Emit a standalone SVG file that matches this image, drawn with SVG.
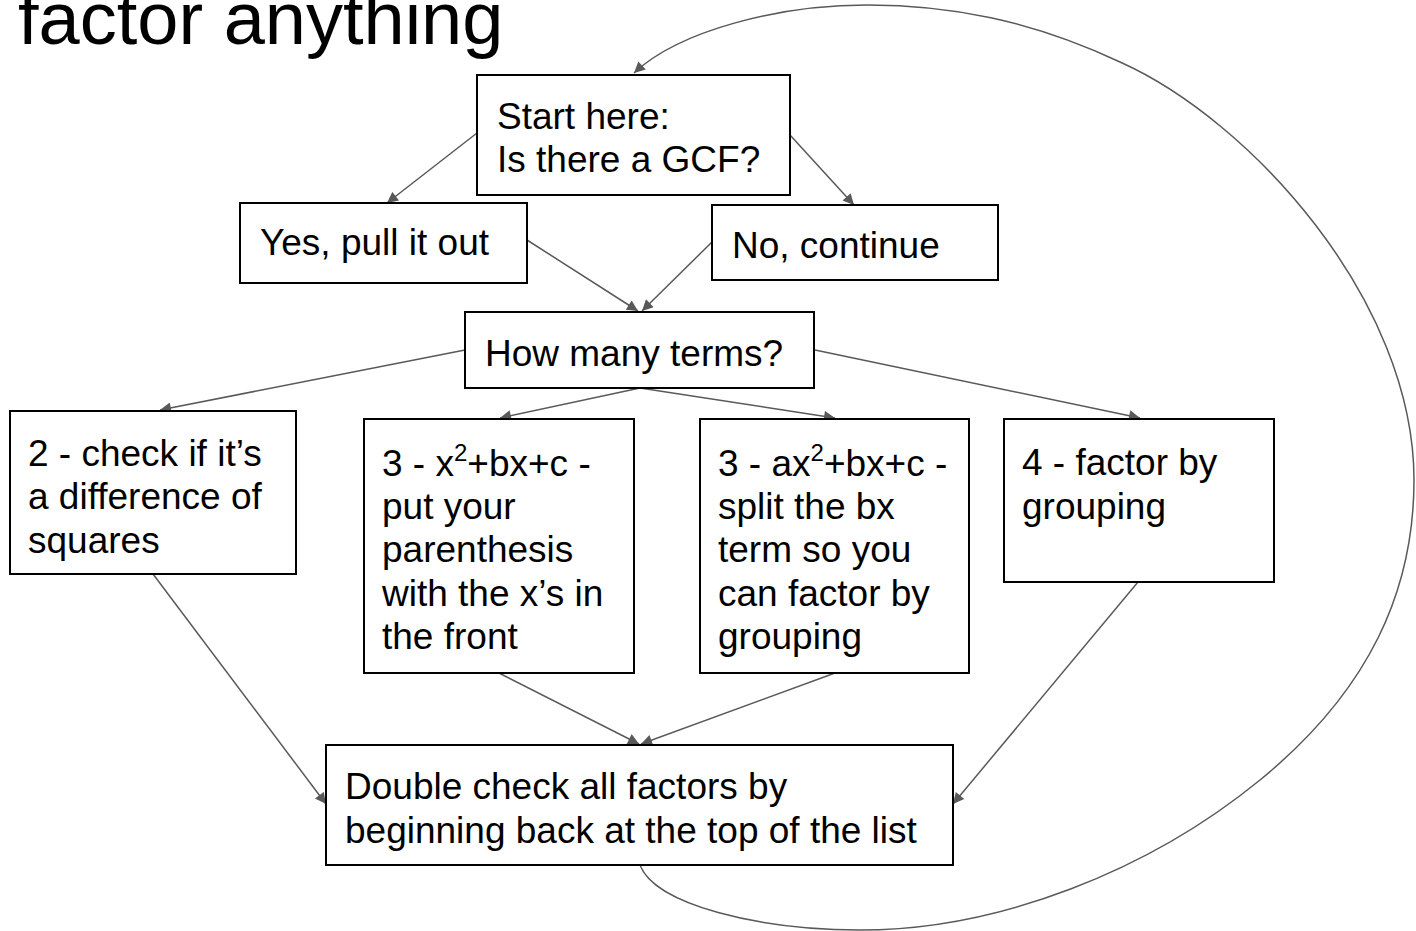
<svg xmlns="http://www.w3.org/2000/svg" width="1416" height="931" viewBox="0 0 1416 931">
<style>
.box{fill:#fff;stroke:#000;stroke-width:2}
.t{font-family:"Liberation Sans",Arial,sans-serif;font-size:37px;fill:#000}
.title{font-family:"Liberation Sans",Arial,sans-serif;font-size:74px;fill:#000}
.c{fill:none;stroke:#595959;stroke-width:1.5;marker-end:url(#ah)}
.sup{font-size:24px}
</style>
<defs>
<marker id="ah" viewBox="0 0 10 10" refX="10" refY="5" markerWidth="13" markerHeight="11" markerUnits="userSpaceOnUse" orient="auto">
<path d="M0,0 L10,5 L0,10 z" fill="#595959"/>
</marker>
</defs>
<rect width="1416" height="931" fill="#fff"/>
<text class="title" x="18" y="44">factor anything</text>
<g id="connectors">
<line class="c" x1="477" y1="133" x2="387" y2="203"/>
<line class="c" x1="790" y1="135" x2="854" y2="205"/>
<line class="c" x1="527" y1="240" x2="638" y2="311"/>
<line class="c" x1="712" y1="242" x2="642" y2="311"/>
<line class="c" x1="465" y1="350" x2="160" y2="410"/>
<line class="c" x1="640" y1="388" x2="500" y2="418"/>
<line class="c" x1="640" y1="388" x2="835" y2="418"/>
<line class="c" x1="815" y1="350" x2="1140" y2="418"/>
<line class="c" x1="153" y1="574" x2="326" y2="804"/>
<line class="c" x1="499" y1="673" x2="639" y2="744"/>
<line class="c" x1="835" y1="673" x2="641" y2="744"/>
<line class="c" x1="1138" y1="582" x2="953" y2="804"/>
<path class="c" d="M640,865 C655,905 760,930 860,930 C1000,930 1150,870 1260,780 C1370,690 1414,590 1414,480 C1414,300 1250,120 1120,62 C1030,20 950,5 867,5 C780,5 680,30 634,73"/>
</g>
<g id="start">
<rect class="box" x="477" y="75" width="313" height="120"/>
<text class="t" x="497" y="129">Start here:</text>
<text class="t" x="497" y="172">Is there a GCF?</text>
</g>
<g id="yes">
<rect class="box" x="240" y="203" width="287" height="80"/>
<text class="t" x="260" y="255">Yes, pull it out</text>
</g>
<g id="no">
<rect class="box" x="712" y="205" width="286" height="75"/>
<text class="t" x="732" y="258">No, continue</text>
</g>
<g id="howmany">
<rect class="box" x="465" y="312" width="349" height="76"/>
<text class="t" x="485" y="366">How many terms?</text>
</g>
<g id="two">
<rect class="box" x="10" y="411" width="286" height="163"/>
<text class="t" x="28" y="466">2 - check if it’s</text>
<text class="t" x="28" y="509">a difference of</text>
<text class="t" x="28" y="553">squares</text>
</g>
<g id="three-a">
<rect class="box" x="364" y="419" width="270" height="254"/>
<text class="t" x="382" y="476">3 - x<tspan class="sup" dy="-15">2</tspan><tspan dy="15">+bx+c -</tspan></text>
<text class="t" x="382" y="519">put your</text>
<text class="t" x="382" y="562">parenthesis</text>
<text class="t" x="382" y="606">with the x’s in</text>
<text class="t" x="382" y="649">the front</text>
</g>
<g id="three-b">
<rect class="box" x="700" y="419" width="269" height="254"/>
<text class="t" x="718" y="476">3 - ax<tspan class="sup" dy="-15">2</tspan><tspan dy="15">+bx+c -</tspan></text>
<text class="t" x="718" y="519">split the bx</text>
<text class="t" x="718" y="562">term so you</text>
<text class="t" x="718" y="606">can factor by</text>
<text class="t" x="718" y="649">grouping</text>
</g>
<g id="four">
<rect class="box" x="1004" y="419" width="270" height="163"/>
<text class="t" x="1022" y="475">4 - factor by</text>
<text class="t" x="1022" y="519">grouping</text>
</g>
<g id="double">
<rect class="box" x="326" y="745" width="627" height="120"/>
<text class="t" x="345" y="799">Double check all factors by</text>
<text class="t" x="345" y="843">beginning back at the top of the list</text>
</g>
</svg>
